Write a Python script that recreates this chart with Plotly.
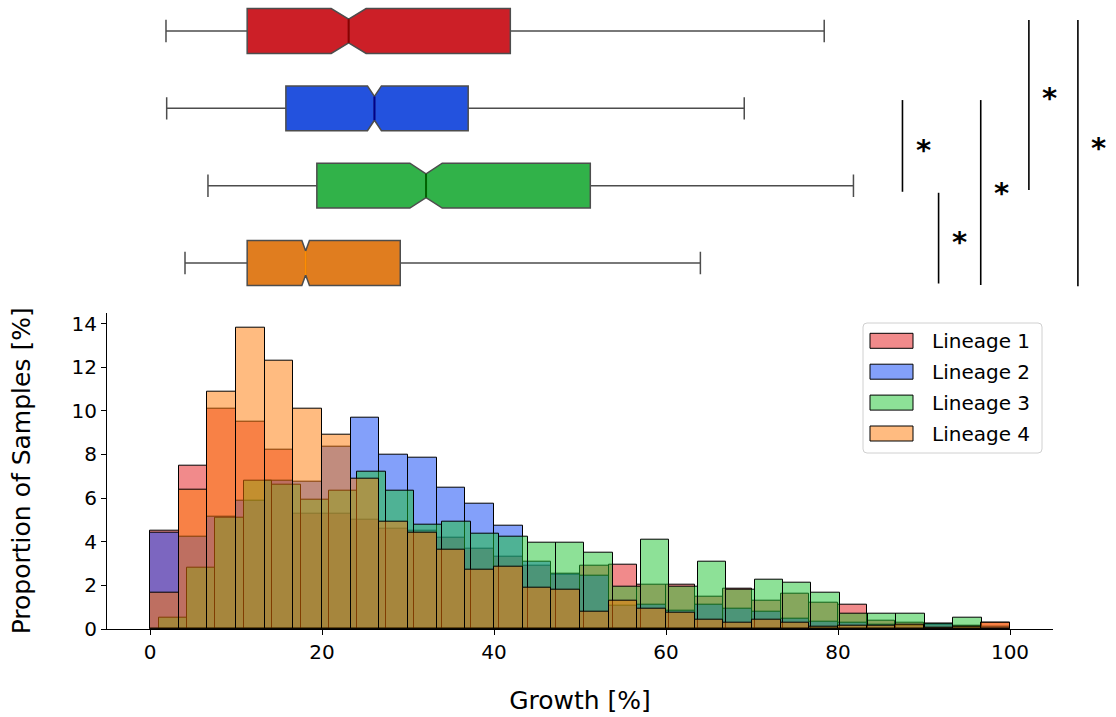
import numpy as np
import plotly.graph_objects as go

# ---- data -------------------------------------------------------------
lineages = ["Lineage 1", "Lineage 2", "Lineage 3", "Lineage 4"]

# histogram bins: each lineage binned into 30 bins over its own range
n_bins = 30
bin_lo = [0.0, 0.0, 1.0, 0.0]
bin_hi = [100.0, 100.0, 100.0, 100.0]

# proportion of samples [%] per bin
hist_l1 = [4.5, 7.5, 10.1, 9.5, 8.2, 5.3, 5.3, 5.0, 4.6, 4.5,
           4.2, 3.7, 3.3, 2.9, 2.5, 2.9, 2.97, 2.05, 2.05, 1.5,
           1.83, 1.3, 1.6, 1.2, 1.1, 0.4, 0.3, 0.2, 0.15, 0.3]
hist_l2 = [4.4, 4.25, 5.15, 5.9, 6.8, 6.76, 8.36, 9.7, 8.01, 7.86,
           6.5, 5.76, 4.72, 3.1, 2.55, 2.43, 1.05, 1.1, 0.85, 1.1,
           0.95, 0.8, 0.45, 0.35, 0.3, 0.2, 0.15, 0.26, 0.1, 0.1]
hist_l3 = [0.5, 2.83, 5.1, 6.8, 6.6, 5.95, 6.35, 7.2, 6.35, 4.77,
           4.92, 4.39, 4.24, 3.96, 3.96, 3.52, 1.95, 4.08, 1.95, 3.09,
           1.82, 2.25, 2.1, 1.68, 0.72, 0.69, 0.69, 0.26, 0.54, 0.0]
hist_l4 = [1.65, 6.4, 10.9, 13.8, 12.3, 10.1, 8.9, 6.9, 4.9, 4.4,
           3.65, 2.74, 2.86, 1.9, 1.82, 0.8, 1.3, 0.92, 0.77, 0.41,
           0.31, 0.44, 0.31, 0.11, 0.14, 0.14, 0.2, 0.08, 0.1, 0.3]
hists = [hist_l1, hist_l2, hist_l3, hist_l4]

# box statistics of growth [%] (whiskers at 2.5 / 97.5 percentiles)
box_low = [1.86, 1.94, 6.74, 4.07]
box_q1 = [11.3, 15.8, 19.4, 11.3]
box_median = [23.1, 26.1, 32.1, 18.1]
box_q3 = [41.9, 37.0, 51.2, 29.1]
box_high = [78.4, 69.1, 81.8, 64.0]
box_notch = [2.03, 0.81, 1.88, 0.44]

# pairwise significance brackets (box-axis span, bracket x, star y)
sig_y0 = [1.893, 3.092, 1.893, 0.858, 0.858]
sig_y1 = [3.079, 4.264, 4.286, 3.057, 4.300]
sig_x = [87.5, 91.7, 96.6, 102.2, 107.9]
sig_star_y = [2.475, 3.67, 3.035, 1.806, 2.45]
sig_label = ["*", "*", "*", "*", "*"]

# ---- styling ----------------------------------------------------------
hist_colors = ["rgba(228,22,24,0.5)", "rgba(8,66,246,0.5)",
               "rgba(28,196,48,0.5)", "rgba(255,120,2,0.5)"]
box_colors = ["#cc1f27", "#2352de", "#31b249", "#e07d1f"]
median_colors = ["#8b0000", "#00008b", "#006400", "#ff8c00"]
FONT = "DejaVu Sans"
box_width = 0.58
notch_width = 0.235          # plotly: fraction removed on each side at the median
W, H = 1116, 717
M_L, M_B = 107, 88
PW, PH = W - M_L, H - M_B    # plotting area in pixels


def px_x(p):
    return (p - M_L) / PW


def px_y(p):
    return (PH - p) / PH


fig = go.Figure()

# overlaid histograms: translucent faces, solid black edges
for name, h, lo, hi, col in zip(lineages, hists, bin_lo, bin_hi, hist_colors):
    edges = np.linspace(lo, hi, n_bins + 1)
    centers = (edges[:-1] + edges[1:]) / 2
    widths = np.diff(edges)
    fig.add_trace(go.Bar(
        x=centers, y=h, width=widths, name=name,
        marker=dict(color=col, line=dict(color="black", width=1)),
        xaxis="x", yaxis="y", showlegend=False,
    ))

# notched horizontal boxes
positions = np.arange(1, len(lineages) + 1)
for i, name in enumerate(lineages):
    fig.add_trace(go.Box(
        y=[positions[i]], q1=[box_q1[i]], median=[box_median[i]], q3=[box_q3[i]],
        lowerfence=[box_low[i]], upperfence=[box_high[i]], notchspan=[box_notch[i]],
        orientation="h", notched=True, notchwidth=notch_width, whiskerwidth=0.5,
        width=box_width, fillcolor=box_colors[i],
        line=dict(color="#4d4d4d", width=1.5),
        boxpoints=False, showlegend=False, hoverinfo="skip",
        xaxis="x2", yaxis="y2", name=name,
    ))
    half = box_width * (1 - 2 * notch_width) / 2
    fig.add_trace(go.Scatter(
        x=[box_median[i], box_median[i]],
        y=[positions[i] - half, positions[i] + half],
        mode="lines", line=dict(color=median_colors[i], width=2),
        showlegend=False, hoverinfo="skip", xaxis="x2", yaxis="y2",
    ))

# significance brackets
for x, y0, y1, sy, lab in zip(sig_x, sig_y0, sig_y1, sig_star_y, sig_label):
    fig.add_shape(type="line", xref="x2", yref="y2", x0=x, x1=x, y0=y0, y1=y1,
                  line=dict(color="black", width=1.6))
    fig.add_annotation(xref="x2", yref="y2", x=x + 2.4, y=sy, text=f"<b>{lab}</b>",
                       showarrow=False, font=dict(family=FONT, size=29, color="black"),
                       xanchor="center", yanchor="middle", yshift=-5)

# legend box with wide patches
lx0, lx1, ly0, ly1, r = 863, 1042, 323, 453, 4
fx = lambda p: px_x(p)
fy = lambda p: px_y(p)
legend_path = (
    f"M{fx(lx0 + r)},{fy(ly0)} L{fx(lx1 - r)},{fy(ly0)} "
    f"Q{fx(lx1)},{fy(ly0)} {fx(lx1)},{fy(ly0 + r)} L{fx(lx1)},{fy(ly1 - r)} "
    f"Q{fx(lx1)},{fy(ly1)} {fx(lx1 - r)},{fy(ly1)} L{fx(lx0 + r)},{fy(ly1)} "
    f"Q{fx(lx0)},{fy(ly1)} {fx(lx0)},{fy(ly1 - r)} L{fx(lx0)},{fy(ly0 + r)} "
    f"Q{fx(lx0)},{fy(ly0)} {fx(lx0 + r)},{fy(ly0)} Z"
)
fig.add_shape(type="path", path=legend_path, xref="paper", yref="paper",
              fillcolor="white", line=dict(color="#d0d0d0", width=1), layer="above")
item_y0, item_step = 340.8, 30.9
for i, (name, col) in enumerate(zip(lineages, hist_colors)):
    cy = item_y0 + i * item_step
    fig.add_shape(type="rect", xref="paper", yref="paper",
                  x0=px_x(870), x1=px_x(913), y0=px_y(cy - 7.5), y1=px_y(cy + 7.5),
                  fillcolor=col, line=dict(color="black", width=1),
                  layer="above")
    fig.add_annotation(xref="paper", yref="paper", x=px_x(930), y=px_y(cy), text=name,
                       showarrow=False, xanchor="left", yanchor="middle",
                       font=dict(family=FONT, size=20, color="black"))

axis_common = dict(showgrid=False, zeroline=False, showline=True, linecolor="black",
                   linewidth=1.2, ticks="outside", ticklen=5, tickwidth=1.2,
                   tickcolor="black",
                   tickfont=dict(family=FONT, size=20, color="black"))

fig.update_layout(
    width=W, height=H,
    margin=dict(l=M_L, r=0, t=0, b=M_B, autoexpand=False),
    paper_bgcolor="white", plot_bgcolor="white",
    barmode="overlay", bargap=0,
    font=dict(family=FONT, color="black"),
    xaxis=dict(domain=[0, 946 / PW], range=[-5, 105], anchor="y",
               tickvals=[0, 20, 40, 60, 80, 100],
               title=dict(text="Growth [%]", font=dict(family=FONT, size=25, color="black"),
                          standoff=28),
               **axis_common),
    yaxis=dict(domain=[0, (PH - 312.7) / PH], range=[0, 14.5], anchor="x", dtick=2,
               title=dict(text="Proportion of Samples [%]",
                          font=dict(family=FONT, size=25, color="black"), standoff=33),
               **axis_common),
    xaxis2=dict(domain=[0, 1], range=[-5, 112.33], anchor="y2", visible=False),
    yaxis2=dict(domain=[0.53, 1], range=[4.422, 0.599], anchor="x2", visible=False),
    showlegend=False,
)

fig.write_html("out.html")
